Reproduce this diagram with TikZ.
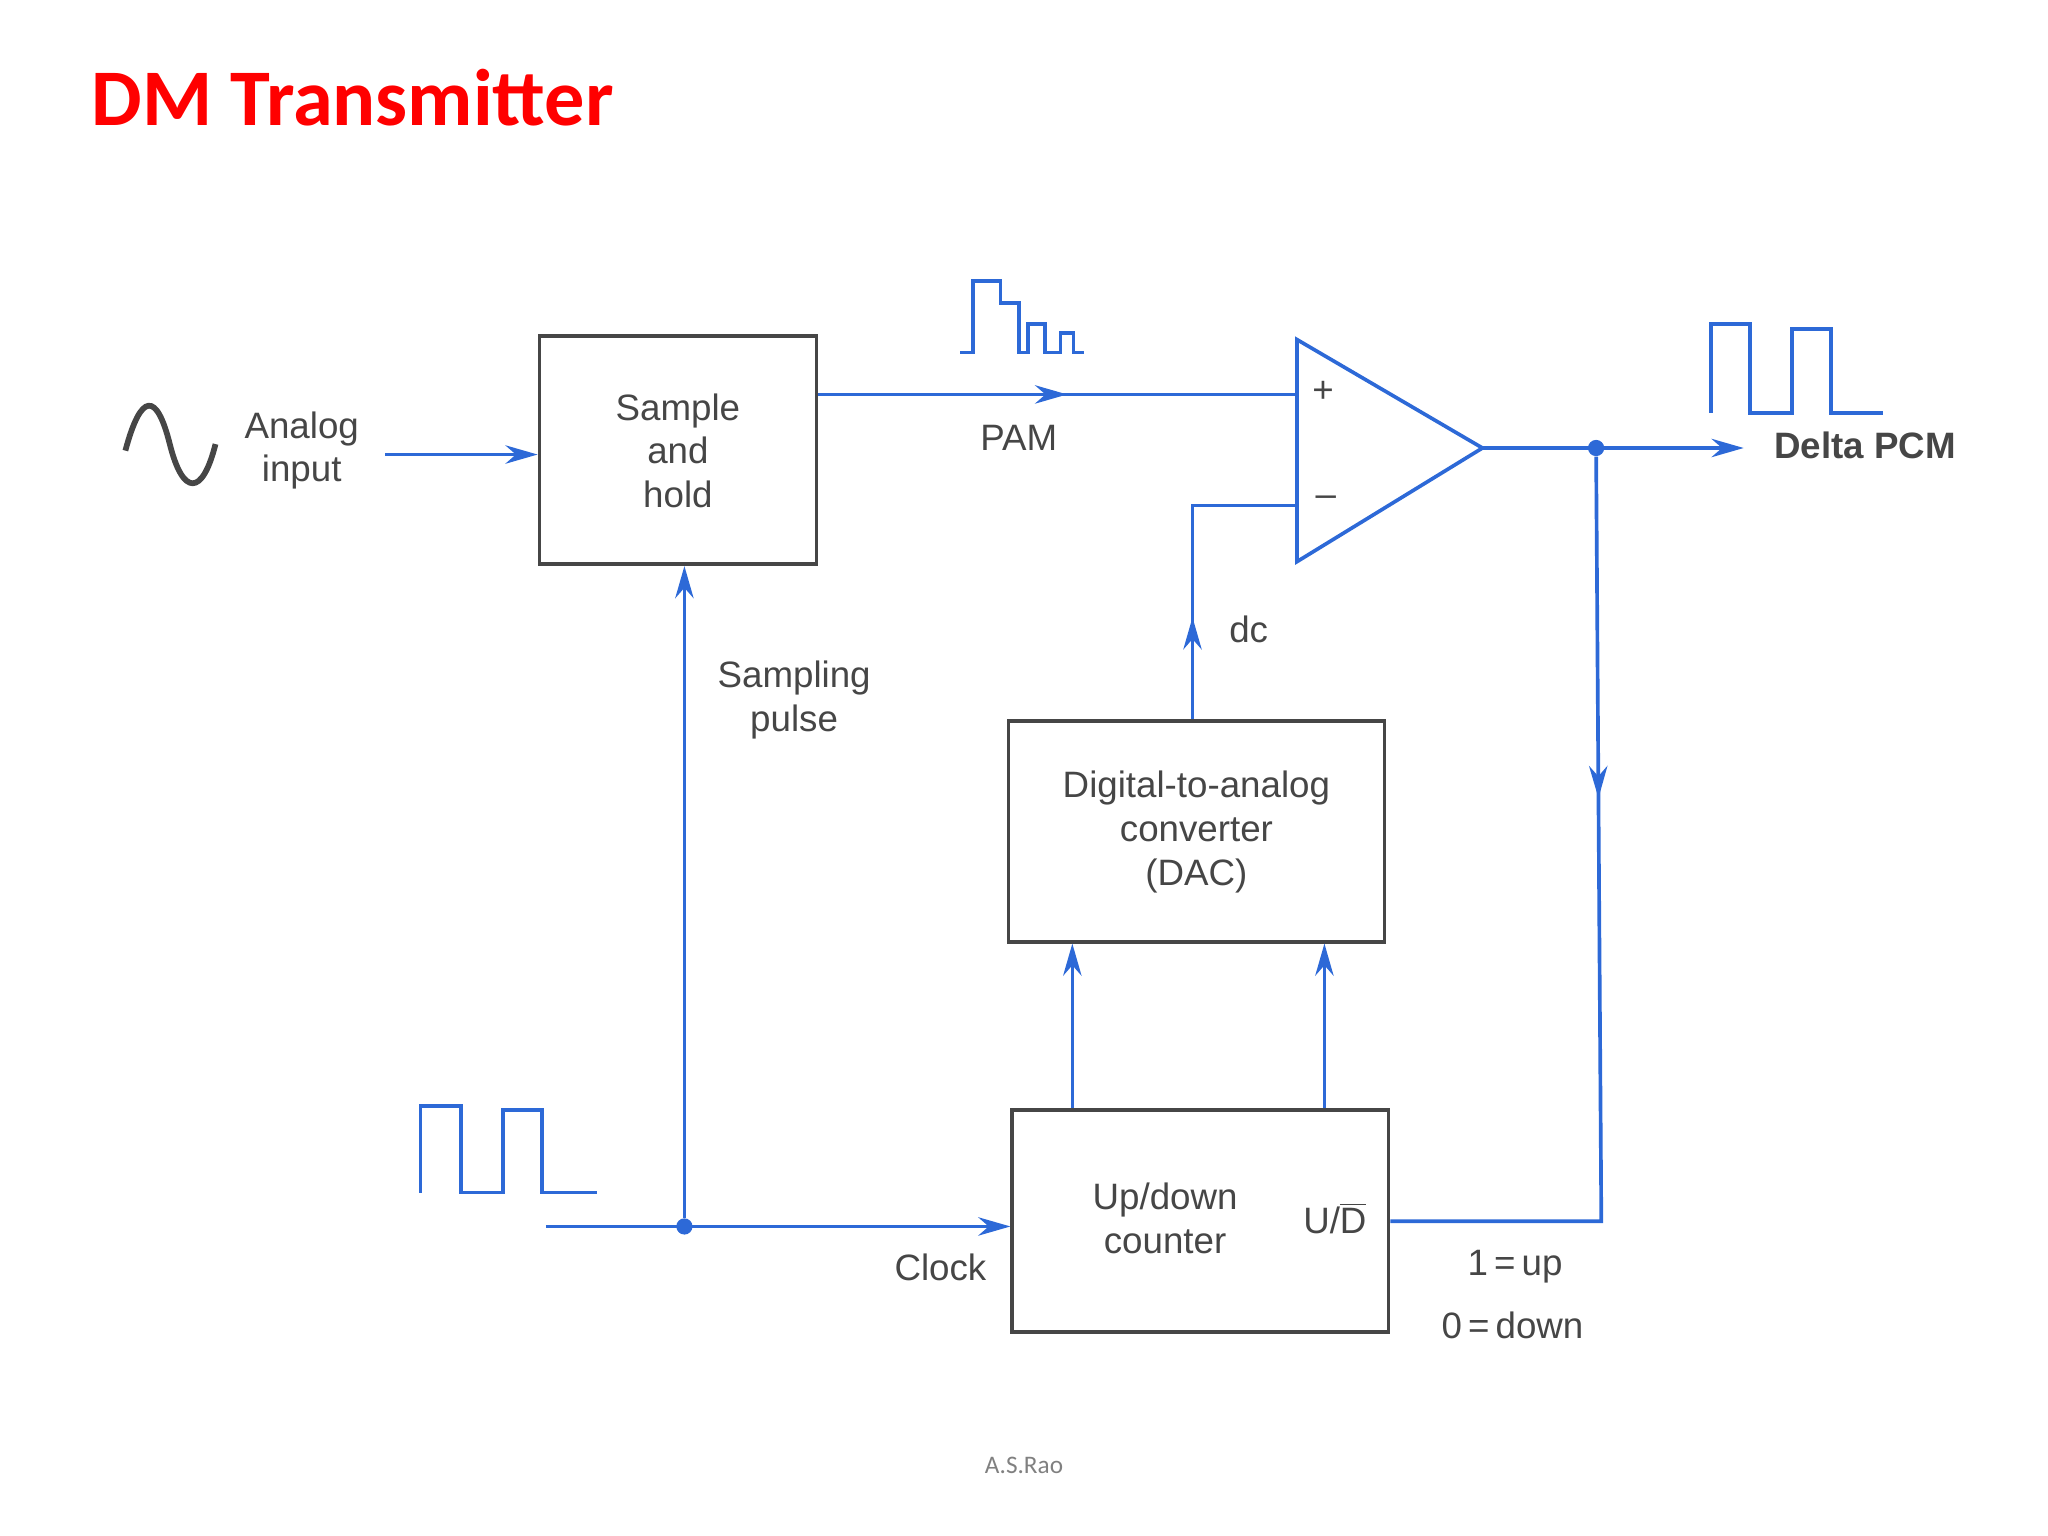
\documentclass[tikz,border=0pt]{standalone}
\usepackage{fontspec}
\setmainfont{Liberation Sans}
\newfontfamily\titlefont{Carlito}
\usetikzlibrary{arrows.meta,decorations.markings}
\definecolor{bl}{RGB}{45,105,215}
\definecolor{bx}{RGB}{70,70,70}
\tikzset{
 box/.style={draw=bx,line width=1.6pt},
 wire/.style={draw=bl,line width=1.6pt},
 arr/.style={wire,-{Stealth[length=14pt,width=8pt]}},
 midarr/.style={wire,postaction={decorate},decoration={markings,mark=at position #1 with {\arrow{Stealth[length=14pt,width=8pt]}}}},
 lbl/.style={font=\fontsize{16}{19}\selectfont,text=bx,align=center},
 dot/.style={circle,fill=bl,inner sep=2.5pt},
}
\begin{document}
\begin{tikzpicture}[x=0.02cm,y=-0.02cm]
\useasboundingbox (0,0) rectangle (1568,1176);
\node[anchor=west,text=red,font=\titlefont\bfseries\fontsize{35}{40}\selectfont] (title) at (64,75) {DM Transmitter};
% sine
\draw[bx,line width=2.5pt] (96,345) .. controls (108,300) and (120,300) .. (130,340) .. controls (140,380) and (155,380) .. (165,340);
\node[lbl] (ain) at (231,345) {Analog\\input};
\coordinate (ainr) at (295,348);
% boxes
\node[box,minimum width=212*0.02cm,minimum height=175*0.02cm] (sh) at (519,344.5) {};
\node[lbl] at (519,345) {Sample\\and\\hold};
\node[box,minimum width=288*0.02cm,minimum height=169*0.02cm] (dac) at (916,636.5) {};
\node[lbl] at (916,637) {Digital-to-analog\\converter\\(DAC)};
\node[box,minimum width=288*0.02cm,minimum height=170*0.02cm] (cnt) at (919,935) {};
\node[lbl] at (892,933) {Up/down\\counter};
\node[lbl] (ud) at (1022,933) {U/$\overline{\mbox{D}}$};
% comparator
\draw[wire] (993,260) -- (993,430) -- (1135,343) -- cycle;
\coordinate (cout) at (1135,343);
\node[lbl] at (1013,300) {+};
\node[lbl] at (1015,384) {--};
\draw[arr] (ainr) -- (sh.west|-ainr);
\draw[midarr=0.52] (sh.east|-0,302) -- (993,302);
\node[lbl] at (780,335) {PAM};
\draw[wire] (735,270) -- (745,270) -- (745,215) -- (766,215) -- (766,232) -- (780,232) -- (780,270) -- (787,270) -- (787,248) -- (800,248) -- (800,270) -- (812,270) -- (812,255) -- (822,255) -- (822,270) -- (830,270);
% output
\node[dot] (od) at (1222,343) {};
\draw[arr] (cout) -- (1335,343);
\node[lbl,font=\bfseries\fontsize{16}{19}\selectfont] at (1428,341) {Delta PCM};
\draw[wire] (1310,316) -- (1310,248) -- (1340,248) -- (1340,316) -- (1372,316) -- (1372,252) -- (1402,252) -- (1402,316) -- (1442,316);
\draw[midarr=0.35] (od) -- (1226,935) -- (cnt.east|-0,935);
\node[lbl] at (1160,970) {1\,=\,up};
\node[lbl] at (1158,1015) {0\,=\,down};
% dc feedback
\draw[midarr=0.32] (dac.north-|913,0) -- (913,387) -- (993,387);
\node[lbl] at (956,482) {dc};
\draw[arr] (cnt.north-|821,0) -- (dac.south-|821,0);
\draw[arr] (cnt.north-|1014,0) -- (dac.south-|1014,0);
% clock
\coordinate (cin) at (418,939);
\node[dot] (cd) at (524,939) {};
\draw[arr] (cin) -- (cnt.west|-cin);
\draw[arr] (cd) -- (cd|-sh.south);
\node[lbl] at (608,536) {Sampling\\pulse};
\node[lbl] at (720,970) {Clock};
\draw[wire] (322,913) -- (322,847) -- (353,847) -- (353,913) -- (385,913) -- (385,850) -- (415,850) -- (415,913) -- (457,913);
\node[text=gray,font=\titlefont\fontsize{11}{13}\selectfont] at (784,1122) {A.S.Rao};
\end{tikzpicture}
\end{document}
